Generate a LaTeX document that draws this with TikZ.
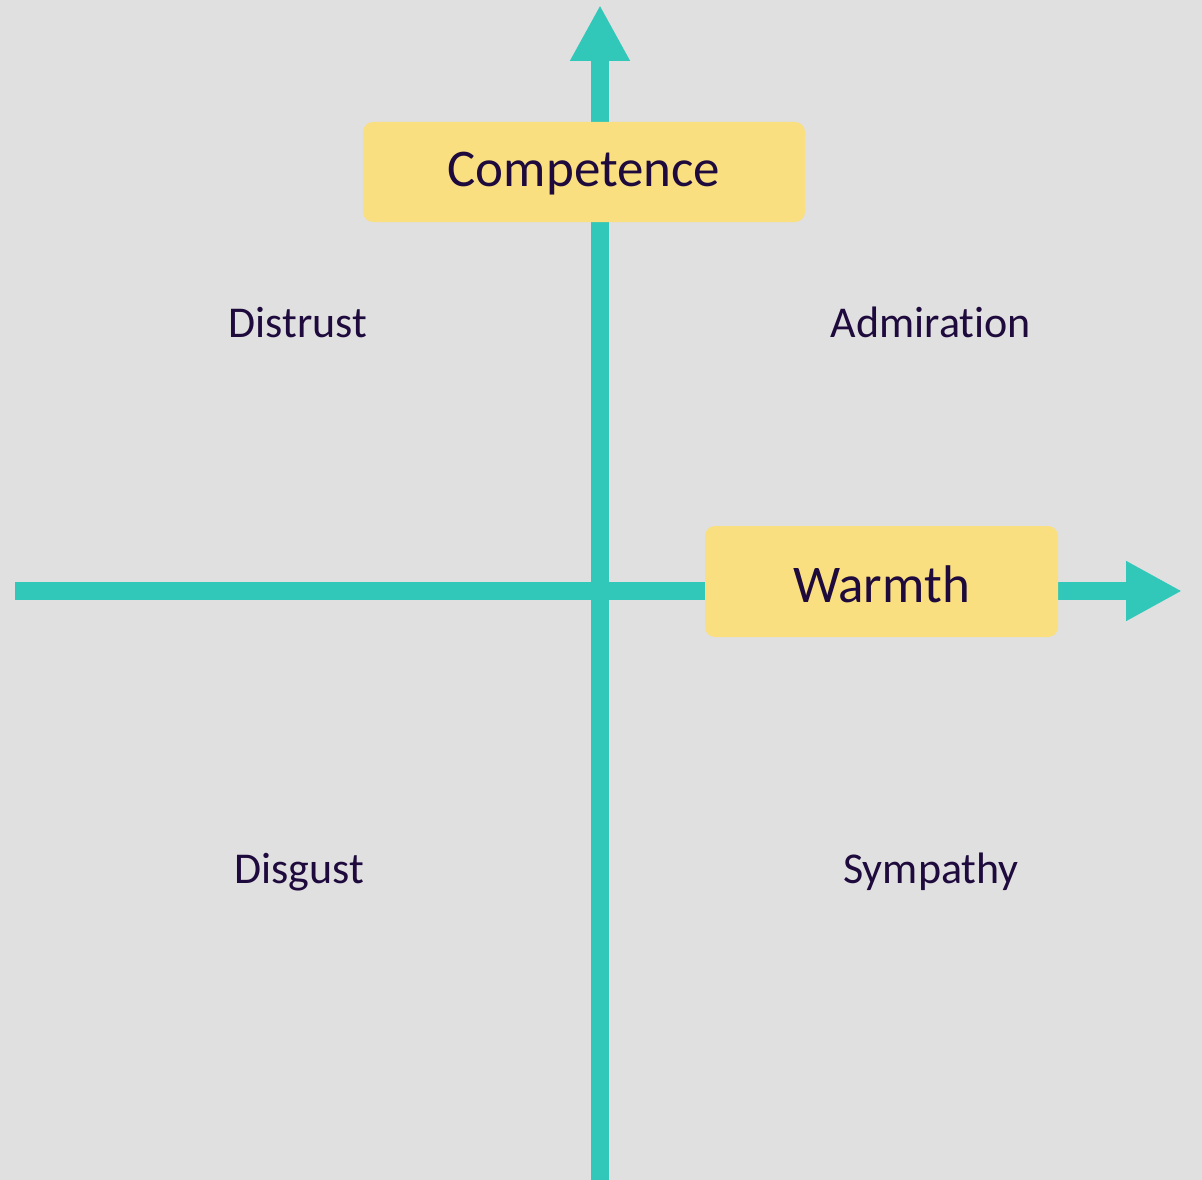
\documentclass[tikz,border=0pt]{standalone}
\usepackage{fontspec}
\setmainfont[Ligatures=NoCommon]{Carlito}
\usetikzlibrary{arrows.meta}
\definecolor{axisteal}{RGB}{50,200,185}
\definecolor{boxyellow}{RGB}{249,223,127}
\definecolor{inkpurple}{RGB}{30,10,60}
\definecolor{paper}{RGB}{224,224,224}

\begin{document}
\begin{tikzpicture}[x=1pt, y=-1pt,
    axis/.style={line width=18pt, axisteal, -{Triangle[length=56pt, width=56pt]}},
    titlebox/.style={fill=boxyellow, rounded corners=10pt, text=inkpurple,
        font=\fontsize{53}{60}\selectfont, text height=34pt, text depth=0pt,
        inner sep=0pt},
    feeling/.style={text=inkpurple, font=\fontsize{44}{52}\selectfont,
        anchor=base, inner sep=0pt}]
        \fill[paper] (0, 0) rectangle (1202, 1180);
        \useasboundingbox (0, 0) rectangle (1202, 1180);

        \coordinate (v0) at (600, 1180);
        \coordinate (v1) at (600, 5);
        \coordinate (h0) at (15, 591);
        \coordinate (h1) at (1182, 591);

        \draw[axis] (v0) -- (v1);
        \draw[axis] (h0) -- (h1);

        \node[titlebox, minimum width=442pt, minimum height=100pt, text depth=5pt] (comp) at (584, 172) {Competence};
        \node[titlebox, minimum width=353pt, minimum height=111pt, text height=41pt] (warm) at (881.5, 581.5) {Warmth};

        \node[feeling] (distrust) at (298, 337) {Distrust};
        \node[feeling] (admire) at (931, 337) {Admiration};
        \node[feeling] (disgust) at (299, 883) {Disgust};
        \node[feeling] (sympathy) at (931, 883) {Sympathy};
    \end{tikzpicture}
\end{document}
